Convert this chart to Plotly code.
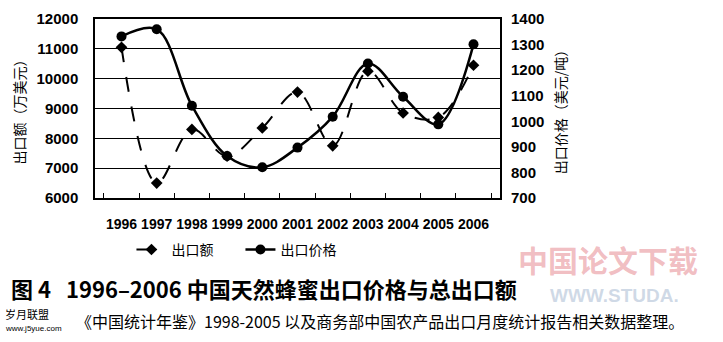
import plotly.graph_objects as go

years = ["1996", "1997", "1998", "1999", "2000", "2001", "2002", "2003", "2004", "2005", "2006"]
export_value = [11050, 6500, 8300, 7400, 8350, 9550, 7750, 10250, 8850, 8700, 10450]
export_price = [1332, 1360, 1061, 864, 820, 897, 1018, 1226, 1096, 988, 1301]

CJK = "Noto Sans CJK SC"
NUM = "Liberation Sans"
NARROW = "Liberation Sans Narrow, Liberation Sans"

fig = go.Figure()
fig.add_trace(go.Scatter(
    x=years, y=export_value, name="出口额", mode="lines+markers",
    line=dict(color="black", width=2, dash="longdash", shape="spline", smoothing=1.0),
    marker=dict(symbol="diamond", size=9, color="black"),
    yaxis="y"))
fig.add_trace(go.Scatter(
    x=years, y=export_price, name="出口价格", mode="lines+markers",
    line=dict(color="black", width=2.5, shape="spline", smoothing=1.0),
    marker=dict(symbol="circle", size=10, color="black"),
    yaxis="y2"))

fig.update_layout(
    width=723, height=342,
    margin=dict(l=95, r=223, t=10, b=144),
    paper_bgcolor="white", plot_bgcolor="white",
    showlegend=True,
    legend=dict(orientation="h", x=0.09, y=-0.29, xanchor="left", yanchor="middle",
                font=dict(family=CJK, size=14, color="black"), bgcolor="rgba(0,0,0,0)",
                entrywidth=64, entrywidthmode="pixels", tracegroupgap=0),
    xaxis=dict(type="category", tickson="boundaries", ticks="inside", ticklen=5,
               tickcolor="black", showline=True, linecolor="black", linewidth=1.5,
               mirror=True, showgrid=False, tickangle=0, ticklabelstandoff=12,
               tickfont=dict(family=NARROW, size=14, color="black", weight="bold")),
    yaxis=dict(range=[6000, 12000], dtick=1000, showgrid=True, gridcolor="black",
               gridwidth=1, showline=True, linecolor="black", linewidth=1.5, mirror=True,
               ticks="", tickformat="d", ticklabelstandoff=12,
               tickfont=dict(family=NUM, size=15, color="black", weight="bold"),
               title=dict(text="出口额（万美元）", font=dict(family=CJK, size=14, color="black"),
                          standoff=8)),
    yaxis2=dict(range=[700, 1400], dtick=100, overlaying="y", side="right",
                showgrid=False, showline=False, ticks="", tickformat="d", ticklabelstandoff=10,
                tickfont=dict(family=NUM, size=15, color="black", weight="bold"),
                title=dict(text="出口价格（美元/吨）", font=dict(family=CJK, size=14, color="black"),
                           standoff=12)),
)

# pixel-positioned texts: (x_px, y_px, text, xanchor, font)
texts = [
    (608, 262, "中国论文下载", "center", dict(family=CJK, size=30, color="rgba(225,110,120,0.45)", weight="bold")),
    (614, 300, "WWW.STUDA.", "center", dict(family=NUM, size=19, color="rgba(160,180,205,0.5)", weight="bold")),
    (10, 292, "图 4   1996–2006 中国天然蜂蜜出口价格与总出口额", "left", dict(family=CJK, size=22, color="black", weight="bold")),
    (75, 327, "《中国统计年鉴》1998-2005 以及商务部中国农产品出口月度统计报告相关数据整理。", "left", dict(family=CJK, size=16, color="black")),
    (4, 320, "岁月联盟", "left", dict(family=CJK, size=11, color="black")),
    (4, 335, "www.j5yue.com", "left", dict(family=NARROW, size=8, color="black")),
]
for px, py, t, xa, f in texts:
    fig.add_annotation(x=(px - 95) / 405.0, y=(198 - py) / 188.0, xref="paper", yref="paper",
                       text=t, showarrow=False, xanchor=xa, yanchor="middle", font=f,
                       borderpad=0)

fig.write_html("out.html")
